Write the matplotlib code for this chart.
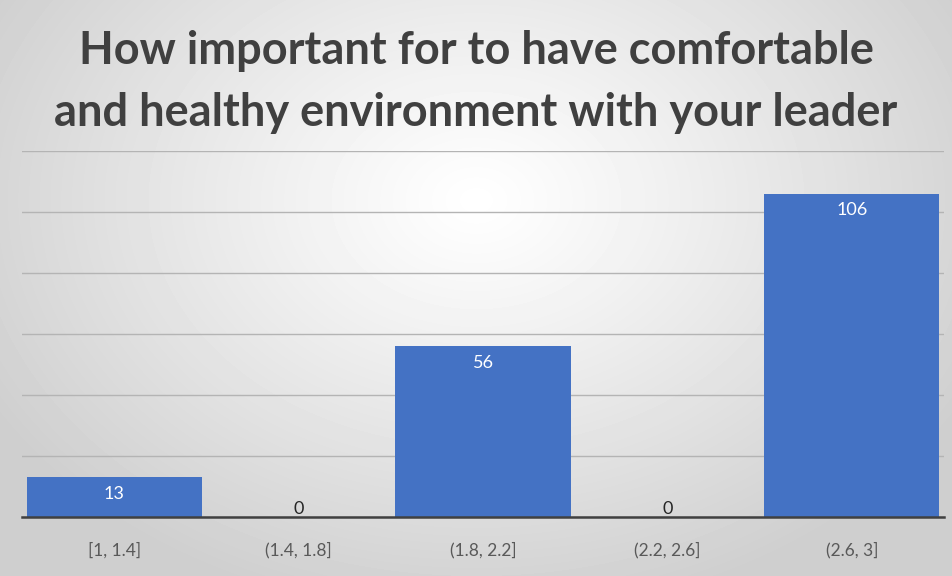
import numpy as np
import matplotlib
matplotlib.use('Agg')
import matplotlib.pyplot as plt

bins = ["[1, 1.4]", "(1.4, 1.8]", "(1.8, 2.2]", "(2.2, 2.6]", "(2.6, 3]"]
counts = [13, 0, 56, 0, 106]
title = "How important for to have comfortable\nand healthy environment with your leader"

plt.rcParams['font.family'] = ['Lato', 'DejaVu Sans']

fig = plt.figure(figsize=(9.52, 5.76), dpi=100)

# radial gray gradient background like the Excel chart style
bg = fig.add_axes([0, 0, 1, 1])
yy, xx = np.mgrid[0:576, 0:952]
r = np.sqrt(((xx - 476) / 560.0) ** 2 + ((yy - 200) / 420.0) ** 2)
shade = 1.0 - 0.19 * np.clip(r, 0, 1) ** 1.1
bg.imshow(shade, cmap='gray', vmin=0, vmax=1, aspect='auto', extent=[0, 1, 0, 1])
bg.axis('off')

ax = fig.add_axes([22 / 952, 59 / 576, 922 / 952, 366 / 576])
ax.patch.set_alpha(0)
x = np.arange(len(bins))
bars = ax.bar(x, counts, width=0.95, color="#4472C4", zorder=3)

ax.set_xlim(-0.5, 4.5)
ax.set_ylim(0, 120)
ax.set_yticks(np.arange(0, 121, 20))
ax.yaxis.grid(True, color="#b4b4b4", linewidth=1, zorder=0)
ax.tick_params(axis='y', left=False, labelleft=False)
ax.tick_params(axis='x', length=0, pad=18, labelsize=12.5, labelcolor="#595959")
ax.set_xticks(x)
ax.set_xticklabels(bins)
for s in ['top', 'right', 'left']:
    ax.spines[s].set_visible(False)
ax.spines['bottom'].set_color("#404040")
ax.spines['bottom'].set_linewidth(1.8)
ax.spines['bottom'].set_zorder(4)

for xi, c in zip(x, counts):
    if c > 0:
        ax.annotate(str(c), (xi, c), xytext=(0, -6), textcoords='offset points',
                    ha='center', va='top', color='white', fontsize=13)
    else:
        ax.annotate(str(c), (xi, c), xytext=(0, 0), textcoords='offset points',
                    ha='center', va='bottom', color='#262626', fontsize=13)

fig.text(0.5, 0.858, title, ha='center', va='center', fontsize=32.5,
         fontweight='bold', color="#404040", linespacing=1.58)

fig.savefig("out.png", dpi=100)
